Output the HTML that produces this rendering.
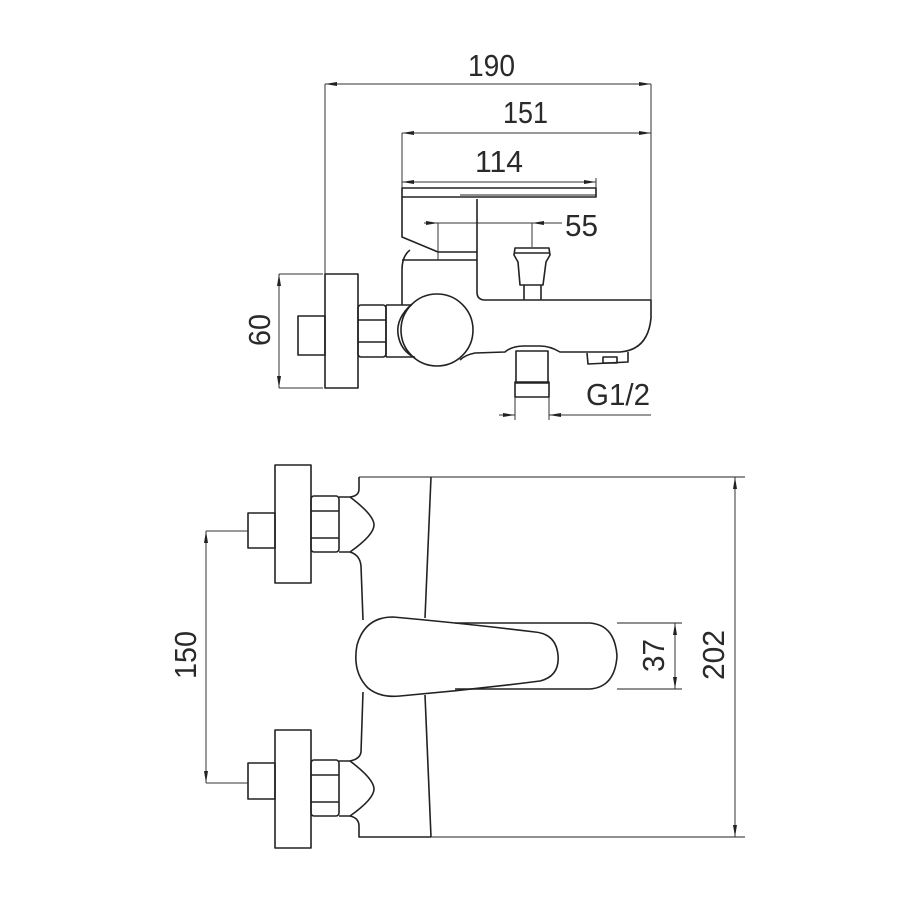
<!DOCTYPE html>
<html><head><meta charset="utf-8"><style>
html,body{margin:0;padding:0;background:#fff;}
svg{display:block;}
text{font-family:"Liberation Sans",sans-serif;fill:#2a2a2a;font-size:31px;}
</style></head><body>
<svg width="900" height="900" viewBox="0 0 900 900" xmlns="http://www.w3.org/2000/svg">
<defs>
<marker id="a" viewBox="0 0 12 6" refX="12" refY="3" markerWidth="12" markerHeight="6" markerUnits="userSpaceOnUse" orient="auto"><path d="M0,1 L12,3 L0,5 z" fill="#222"/></marker>
</defs>
<g fill="none" stroke="#333" stroke-width="1">
<!-- TOP VIEW dims -->
<line x1="325" y1="84" x2="325" y2="274"/>
<line x1="651" y1="84" x2="651" y2="300"/>
<line x1="340" y1="84" x2="325" y2="84" marker-end="url(#a)"/>
<line x1="340" y1="84" x2="651" y2="84" marker-end="url(#a)"/>
<line x1="402" y1="133" x2="402" y2="188"/>
<line x1="420" y1="133" x2="402" y2="133" marker-end="url(#a)"/>
<line x1="420" y1="133" x2="651" y2="133" marker-end="url(#a)"/>
<line x1="420" y1="182" x2="402" y2="182" marker-end="url(#a)"/>
<line x1="420" y1="182" x2="596" y2="182" marker-end="url(#a)"/>
<line x1="596" y1="178" x2="596" y2="188"/>
<!-- 55 -->
<line x1="424" y1="223" x2="438" y2="223" marker-end="url(#a)"/>
<line x1="438" y1="223" x2="532" y2="223"/>
<line x1="562" y1="223" x2="532" y2="223" marker-end="url(#a)"/>
<line x1="438" y1="223" x2="438" y2="260"/>
<line x1="532" y1="223" x2="532" y2="247"/>
<!-- 60 -->
<line x1="279" y1="274" x2="323" y2="274"/>
<line x1="279" y1="388" x2="323" y2="388"/>
<line x1="279" y1="290" x2="279" y2="274" marker-end="url(#a)"/>
<line x1="279" y1="290" x2="279" y2="388" marker-end="url(#a)"/>
<!-- G1/2 -->
<line x1="515" y1="397" x2="515" y2="420"/>
<line x1="549" y1="397" x2="549" y2="420"/>
<line x1="499" y1="415" x2="515" y2="415" marker-end="url(#a)"/>
<line x1="651" y1="415" x2="549" y2="415" marker-end="url(#a)"/>
</g>
<g fill="none" stroke="#222" stroke-width="1.6" stroke-linejoin="round">
<!-- lever -->
<rect x="402" y="188" width="194" height="9"/>
<line x1="460" y1="197" x2="460" y2="197"/>
<path d="M402,197 L402,237 L438,252 L477,252 L477,199"/>
<line x1="460" y1="195" x2="596" y2="195" stroke-width="1"/>
<!-- body -->
<path d="M410,250 Q402,256 402,270 L402,305"/>
<line x1="402" y1="260" x2="477" y2="260"/>
<path d="M477,252 L477,292 Q477,300 485,300 L651,300 L651,318 Q648,350 620,352"/>
<path d="M620,352 L560,352 Q550,346 540,346 L524,346 Q512,346 505,352 L475,353 Q465,355 460,360"/>
<!-- knob -->
<path d="M515,248 L549,248 L550,255 L546,262 L543,285 L520,285 L518,262 L514,255 Z"/>
<line x1="515" y1="253" x2="549" y2="253"/>
<line x1="524" y1="285" x2="524" y2="300"/>
<line x1="541" y1="285" x2="541" y2="300"/>
<!-- spout -->
<path d="M587,353 L588,364 L628,362 L628,352"/>
<rect x="603" y="357" width="14" height="6"/>
<!-- circle -->
<circle cx="437" cy="330" r="36"/>
<path d="M412,304 Q396,318 398,334 Q400,350 415,358"/>
<!-- connector -->
<path d="M386,305 L412,305 M386,357 L415,357"/>
<line x1="386" y1="305" x2="386" y2="357"/>
<!-- nut -->
<rect x="358" y="305" width="28" height="52" rx="3"/>
<line x1="358" y1="320" x2="386" y2="320"/>
<line x1="358" y1="342" x2="386" y2="342"/>
<!-- flange -->
<rect x="325" y="274" width="33" height="114"/>
<rect x="298" y="316" width="27" height="39"/>
<!-- outlet -->
<rect x="516" y="351" width="32" height="32"/>
<rect x="515" y="382" width="34" height="15"/>

<!-- BOTTOM VIEW -->
<rect x="275" y="465" width="36" height="118"/>
<rect x="248" y="513" width="27" height="35"/>
<rect x="311" y="496" width="28" height="56" rx="3"/>
<line x1="311" y1="511" x2="339" y2="511"/>
<line x1="311" y1="538" x2="339" y2="538"/>
<path d="M339,497 L350,497 Q374,515 374,525 Q374,535 350,552 L339,552"/>
<rect x="275" y="730" width="36" height="118"/>
<rect x="248" y="763" width="27" height="36"/>
<rect x="311" y="760" width="28" height="56" rx="3"/>
<line x1="311" y1="775" x2="339" y2="775"/>
<line x1="311" y1="802" x2="339" y2="802"/>
<path d="M339,761 L350,761 Q374,779 374,789 Q374,799 350,816 L339,816"/>
<!-- body outline -->
<path d="M359,477 L359,489 Q359,496 350,497"/>
<path d="M350,552 Q360,555 361,566 L363,620"/>
<path d="M363,692 L361,752 Q360,759 350,761"/>
<path d="M350,816 Q359,818 359,826 L359,837 L431,837"/>
<line x1="359" y1="477" x2="745" y2="477" stroke-width="1"/>
<path d="M431,477 L425,618"/>
<path d="M425,695 L431,837"/>
<line x1="431" y1="837" x2="745" y2="837" stroke-width="1"/>
<!-- handle -->
<path d="M393,617 Q365,617 357,645 Q352,672 368,688 Q380,698 400,696 Q470,690 540,681 Q560,676 558,655 Q556,634 535,632 Q470,624 393,617 Z"/>
<path d="M455,623 L590,623 Q615,625 617,656 Q615,687 590,689 L455,689"/>
<line x1="617" y1="623" x2="682" y2="623" stroke-width="1"/>
<line x1="617" y1="689" x2="682" y2="689" stroke-width="1"/>
</g>
<g fill="none" stroke="#333" stroke-width="1">
<line x1="675" y1="640" x2="675" y2="623" marker-end="url(#a)"/>
<line x1="675" y1="640" x2="675" y2="689" marker-end="url(#a)"/>
<line x1="735" y1="500" x2="735" y2="477" marker-end="url(#a)"/>
<line x1="735" y1="500" x2="735" y2="837" marker-end="url(#a)"/>
<line x1="206" y1="531" x2="248" y2="531"/>
<line x1="206" y1="783" x2="248" y2="783"/>
<line x1="206" y1="550" x2="206" y2="531" marker-end="url(#a)"/>
<line x1="206" y1="550" x2="206" y2="783" marker-end="url(#a)"/>
</g>
<text x="468" y="76" textLength="47" lengthAdjust="spacingAndGlyphs">190</text>
<text x="503" y="123" textLength="45" lengthAdjust="spacingAndGlyphs">151</text>
<text x="475" y="172" textLength="48" lengthAdjust="spacingAndGlyphs">114</text>
<text x="565" y="236" textLength="33" lengthAdjust="spacingAndGlyphs">55</text>
<text x="586" y="405" textLength="64" lengthAdjust="spacingAndGlyphs">G1/2</text>
<text transform="translate(270,346) rotate(-90)" textLength="32" lengthAdjust="spacingAndGlyphs">60</text>
<text transform="translate(196,679) rotate(-90)" textLength="48" lengthAdjust="spacingAndGlyphs">150</text>
<text transform="translate(664,672) rotate(-90)" textLength="33" lengthAdjust="spacingAndGlyphs">37</text>
<text transform="translate(724,680) rotate(-90)" textLength="50" lengthAdjust="spacingAndGlyphs">202</text>
</svg>
</body></html>
